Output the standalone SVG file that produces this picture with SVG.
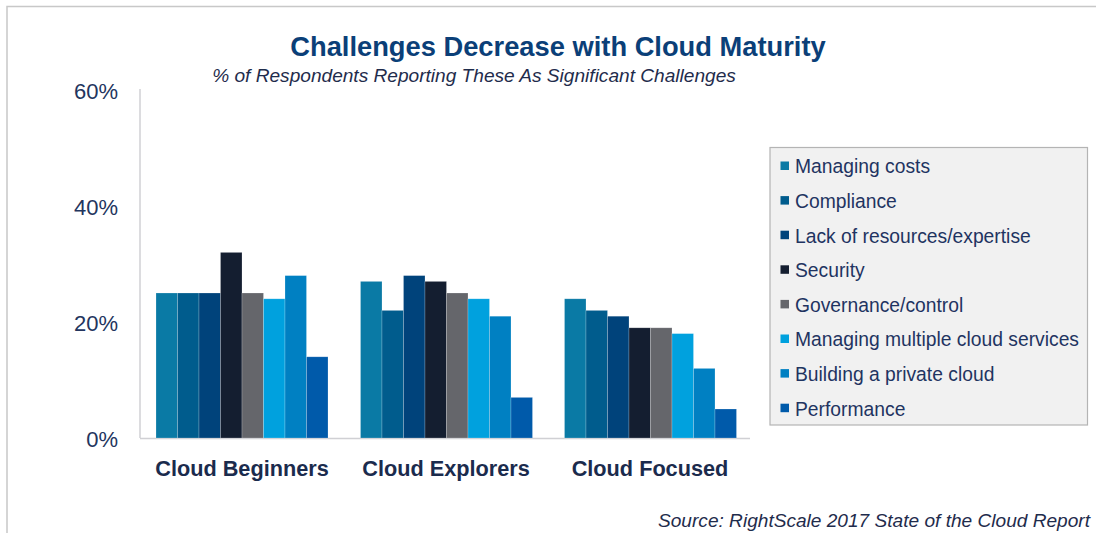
<svg xmlns="http://www.w3.org/2000/svg" width="1096" height="533" viewBox="0 0 1096 533">
  <style>
    .t{font-family:"Liberation Sans",Arial,sans-serif;fill:#1f3461}
    .title{font-size:27.3px;font-weight:bold;fill:#0b3f78}
    .sub{font-size:19.1px;font-style:italic;fill:#1f2c4c}
    .ax{font-size:22px;text-anchor:end;fill:#23355e}
    .cat{font-size:21.7px;font-weight:bold;text-anchor:middle;fill:#1b2b4d}
    .leg{font-size:19.3px;fill:#1f3461}
    .c0{fill:#0a7aa5}.c1{fill:#005c8d}.c2{fill:#00437b}.c3{fill:#141e30}
    .c4{fill:#65666b}.c5{fill:#00a1de}.c6{fill:#0080c2}.c7{fill:#005aaa}
    .bars rect{stroke:#ffffff;stroke-opacity:0.35;stroke-width:0.6}
  </style>
  <rect width="1096" height="533" fill="#ffffff"/>
  <g id="frame" fill="none" stroke="#c8c8c8" stroke-width="1.5">
    <path d="M7 533 V6.5 H1096"/>
  </g>
  <g id="title">
    <text class="t title" x="558" y="56" text-anchor="middle">Challenges Decrease with Cloud Maturity</text>
    <text class="t sub" x="474" y="82" text-anchor="middle">% of Respondents Reporting These As Significant Challenges</text>
  </g>
  <g id="axis">
    <line x1="140" y1="89" x2="140" y2="438" stroke="#d0d0d4" stroke-width="1.5"/>
    <line x1="140" y1="438.5" x2="750" y2="438.5" stroke="#d0d0d4" stroke-width="1.5"/>
    <text class="t ax" x="118" y="98.5">60%</text>
    <text class="t ax" x="118" y="214.5">40%</text>
    <text class="t ax" x="118" y="330.5">20%</text>
    <text class="t ax" x="118" y="446.5">0%</text>
  </g>
  <g id="bars-beginners" class="bars">
    <rect class="c0" x="156" y="293" width="21.5" height="145"/>
    <rect class="c1" x="177.5" y="293" width="21.5" height="145"/>
    <rect class="c2" x="199" y="293" width="21.5" height="145"/>
    <rect class="c3" x="220.5" y="252.4" width="21.5" height="185.6"/>
    <rect class="c4" x="242" y="293" width="21.5" height="145"/>
    <rect class="c5" x="263.5" y="298.8" width="21.5" height="139.2"/>
    <rect class="c6" x="285" y="275.6" width="21.5" height="162.4"/>
    <rect class="c7" x="306.5" y="356.8" width="21.5" height="81.2"/>
  </g>
  <g id="bars-explorers" class="bars">
    <rect class="c0" x="360.5" y="281.4" width="21.5" height="156.6"/>
    <rect class="c1" x="382" y="310.4" width="21.5" height="127.6"/>
    <rect class="c2" x="403.5" y="275.6" width="21.5" height="162.4"/>
    <rect class="c3" x="425" y="281.4" width="21.5" height="156.6"/>
    <rect class="c4" x="446.5" y="293" width="21.5" height="145"/>
    <rect class="c5" x="468" y="298.8" width="21.5" height="139.2"/>
    <rect class="c6" x="489.5" y="316.2" width="21.5" height="121.8"/>
    <rect class="c7" x="511" y="397.4" width="21.5" height="40.6"/>
  </g>
  <g id="bars-focused" class="bars">
    <rect class="c0" x="564.5" y="298.8" width="21.5" height="139.2"/>
    <rect class="c1" x="586" y="310.4" width="21.5" height="127.6"/>
    <rect class="c2" x="607.5" y="316.2" width="21.5" height="121.8"/>
    <rect class="c3" x="629" y="327.8" width="21.5" height="110.2"/>
    <rect class="c4" x="650.5" y="327.8" width="21.5" height="110.2"/>
    <rect class="c5" x="672" y="333.6" width="21.5" height="104.4"/>
    <rect class="c6" x="693.5" y="368.4" width="21.5" height="69.6"/>
    <rect class="c7" x="715" y="409" width="21.5" height="29"/>
  </g>
  <g id="categories">
    <text class="t cat" x="242" y="476">Cloud Beginners</text>
    <text class="t cat" x="446" y="476">Cloud Explorers</text>
    <text class="t cat" x="650" y="476">Cloud Focused</text>
  </g>
  <g id="legend">
    <rect x="770" y="147.5" width="317.5" height="277.5" fill="#f1f1f1" stroke="#b4b4b4" stroke-width="1.2"/>
    <rect class="c0" x="780.5" y="161.5" width="8.5" height="8.5"/>
    <text class="t leg" x="795" y="173.3">Managing costs</text>
    <rect class="c1" x="780.5" y="196.1" width="8.5" height="8.5"/>
    <text class="t leg" x="795" y="207.9">Compliance</text>
    <rect class="c2" x="780.5" y="230.7" width="8.5" height="8.5"/>
    <text class="t leg" x="795" y="242.5">Lack of resources/expertise</text>
    <rect class="c3" x="780.5" y="265.3" width="8.5" height="8.5"/>
    <text class="t leg" x="795" y="277.1">Security</text>
    <rect class="c4" x="780.5" y="299.9" width="8.5" height="8.5"/>
    <text class="t leg" x="795" y="311.7">Governance/control</text>
    <rect class="c5" x="780.5" y="334.5" width="8.5" height="8.5"/>
    <text class="t leg" x="795" y="346.3">Managing multiple cloud services</text>
    <rect class="c6" x="780.5" y="369.1" width="8.5" height="8.5"/>
    <text class="t leg" x="795" y="380.9">Building a private cloud</text>
    <rect class="c7" x="780.5" y="403.7" width="8.5" height="8.5"/>
    <text class="t leg" x="795" y="415.5">Performance</text>
  </g>
  <g id="source">
    <text class="t sub" x="1090" y="527" text-anchor="end">Source: RightScale 2017 State of the Cloud Report</text>
  </g>
</svg>
